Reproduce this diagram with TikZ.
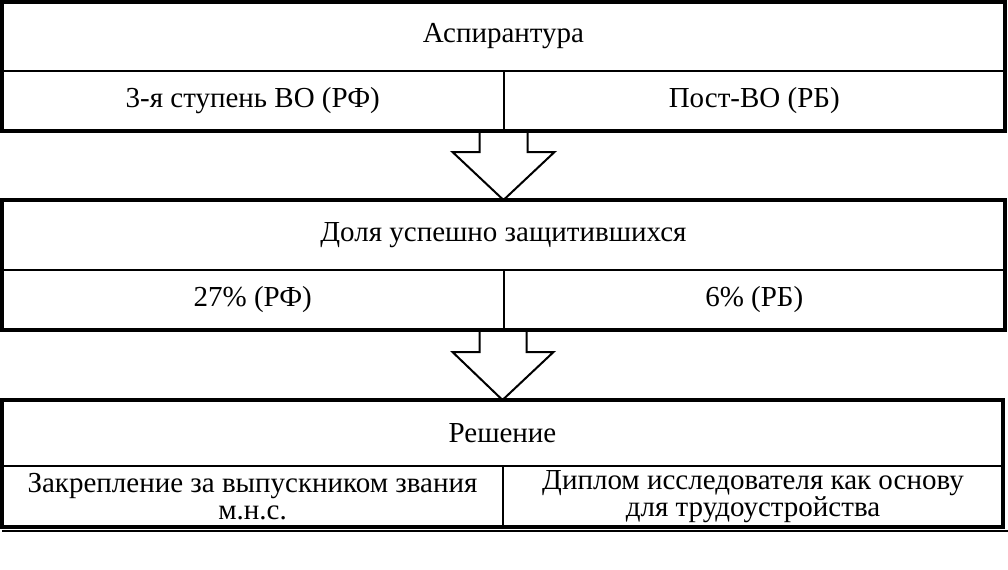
\documentclass[tikz,border=0pt]{standalone}
\usepackage{fontspec}
\setmainfont{Liberation Serif}
\usetikzlibrary{positioning}
\tikzset{
  cell/.style={draw, line width=1pt, inner sep=0pt, outer sep=0pt, align=center,
    font=\fontsize{14.5}{13.5}\selectfont},
  titlecell/.style={cell, minimum width=501.5pt},
  halfcell/.style={cell, minimum width=250.75pt},
  frame/.style={line width=1.6pt},
  blockarrow/.style={line width=1pt, line join=miter}
}
\begin{document}
\begin{tikzpicture}[x=0.5pt, y=-0.5pt]
  \useasboundingbox (0,0) rectangle (1008,569);
  % first block: aspirantura
  \node[titlecell, minimum height=34.5pt, anchor=north west] (asp) at (2,2) {Аспирантура};
  \node[halfcell, minimum height=30pt, anchor=north west] (aspL) at (asp.south west) {3-я ступень ВО (РФ)};
  \node[halfcell, minimum height=30pt, anchor=north east] (aspR) at (asp.south east) {Пост-ВО (РБ)};
  \draw[frame] (asp.north west) rectangle (aspR.south east);
  % second block: share of defended
  \node[titlecell, minimum height=35pt, anchor=north west] (dol) at (2,200) {Доля успешно защитившихся};
  \node[halfcell, minimum height=30pt, anchor=north west] (dolL) at (dol.south west) {27\% (РФ)};
  \node[halfcell, minimum height=30pt, anchor=north east] (dolR) at (dol.south east) {6\% (РБ)};
  \draw[frame] (dol.north west) rectangle (dolR.south east);
  % third block: decision
  \node[cell, minimum width=500.5pt, minimum height=33pt, anchor=north west] (res) at (2,400) {Решение};
  \node[cell, minimum width=250.5pt, minimum height=30.5pt, anchor=north west] (resL) at (res.south west)
    {Закрепление за выпускником звания\\м.н.с.};
  \node[cell, minimum width=250pt, minimum height=30.5pt, anchor=north east] (resR) at (res.south east)
    {Диплом исследователя как основу\\для трудоустройства};
  \draw[frame] (res.north west) rectangle (resR.south east);
  \draw[line width=1pt] (resL.south west) ++(0,4) -- ++(1006,0);
  % block arrows between the blocks
  \draw[blockarrow] (aspL.south east) ++(-24,0) -- ++(0,21) -- ++(-27,0) -- (dol.north)
    -- ++(51,-48) -- ++(-27,0) -- ++(0,-21);
  \draw[blockarrow] (dolL.south east) ++(-24,0) -- ++(0,22) -- ++(-27,0) -- (res.north)
    -- ++(51,-48) -- ++(-27,0) -- ++(0,-22);
\end{tikzpicture}
\end{document}
